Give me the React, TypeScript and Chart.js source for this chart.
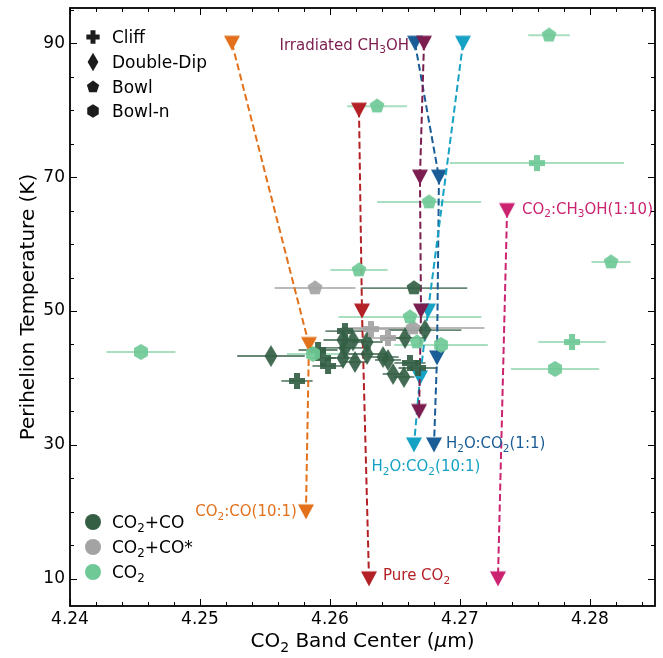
import React, { useEffect, useRef } from 'react';
import { Chart, registerables } from 'chart.js';
Chart.register(...registerables);

const FONT = '"DejaVu Sans", sans-serif';

const X_TICKS = [4.24, 4.25, 4.26, 4.27, 4.28];
const Y_TICKS = [10, 30, 50, 70, 90];

const MORPHOLOGIES = ['Cliff', 'Double-Dip', 'Bowl', 'Bowl-n'];
const COMPOSITIONS = ['CO_2+CO', 'CO_2+CO*', 'CO_2'];

// Comets: CO2+CO
const CO2CO_TYPE = ['Double-Dip', 'Double-Dip', 'Double-Dip', 'Double-Dip', 'Double-Dip', 'Double-Dip', 'Double-Dip', 'Double-Dip', 'Double-Dip', 'Double-Dip', 'Double-Dip', 'Double-Dip', 'Double-Dip', 'Double-Dip',
  'Cliff', 'Cliff', 'Cliff', 'Cliff', 'Cliff', 'Cliff', 'Cliff', 'Bowl'];
const CO2CO_X = [4.25546, 4.2610, 4.26177, 4.26115, 4.2610, 4.26192, 4.26285, 4.26285, 4.26408, 4.26446, 4.26485, 4.26569, 4.26577, 4.26731,
  4.25746, 4.25908, 4.25946, 4.25985, 4.26115, 4.26615, 4.26677, 4.26646];
const CO2CO_Y = [43.28, 45.67, 45.6, 44.48, 42.99, 42.39, 45.37, 43.58, 43.13, 42.69, 40.6, 40.15, 45.97, 47.16,
  39.55, 44.18, 42.99, 41.79, 47.01, 42.24, 41.49, 53.43];
const CO2CO_XERR = [0.0026, 0.0015, 0.001, 0.002, 0.0012, 0.001, 0.0012, 0.0015, 0.0012, 0.001, 0.0008, 0.0008, 0.0015, 0.0028,
  0.0012, 0.0015, 0.001, 0.0012, 0.0015, 0.0012, 0.0015, 0.0041];

// Comets: CO2+CO*
const CO2COS_TYPE = ['Bowl', 'Cliff', 'Cliff', 'Bowl'];
const CO2COS_X = [4.25885, 4.26315, 4.26446, 4.26638];
const CO2COS_Y = [53.43, 47.31, 45.97, 47.46];
const CO2COS_XERR = [0.0031, 0.0025, 0.0015, 0.0055];

// Comets: CO2
const CO2_TYPE = ['Bowl', 'Bowl', 'Cliff', 'Bowl', 'Bowl', 'Bowl', 'Bowl', 'Cliff', 'Bowl-n', 'Bowl-n', 'Bowl-n', 'Bowl', 'Bowl-n'];
const CO2_X = [4.27685, 4.26362, 4.27592, 4.26762, 4.28162, 4.26223, 4.26615, 4.27862, 4.27731, 4.24546, 4.26854, 4.26669, 4.25869];
const CO2_Y = [91.19, 80.6, 72.09, 66.27, 57.31, 56.12, 49.1, 45.37, 41.34, 43.88, 44.93, 45.37, 43.58];
const CO2_XERR = [0.0016, 0.0023, 0.0067, 0.004, 0.0015, 0.0022, 0.0055, 0.0026, 0.0034, 0.00265, 0.0036, 0, 0.002];

// Laboratory series
const LAB_NAMES = ['Pure CO_2', 'CO_2:CO(10:1)', 'Irradiated CH_3OH', 'H_2O:CO_2(1:1)', 'H_2O:CO_2(10:1)', 'CO_2:CH_3OH(1:10)'];
const PURE_CO2_X = [4.26223, 4.26246, 4.2630];
const PURE_CO2_Y = [80, 50, 10];
const CO2_CO_X = [4.25246, 4.25838, 4.25815];
const CO2_CO_Y = [90, 45, 20];
const IRR_CH3OH_X = [4.26723, 4.26692, 4.2670, 4.26685];
const IRR_CH3OH_Y = [90, 70, 50, 35];
const H2O_CO2_11_X = [4.26654, 4.26838, 4.26823, 4.2680];
const H2O_CO2_11_Y = [90, 70, 43, 30];
const H2O_CO2_101_X = [4.27023, 4.26754, 4.26692, 4.26646];
const H2O_CO2_101_Y = [90, 50, 40, 30];
const CO2_CH3OH_X = [4.27362, 4.27292];
const CO2_CH3OH_Y = [65, 10];

const DARK = 'rgba(52,95,69,0.92)';
const GRAY = 'rgba(163,163,163,0.92)';
const LIGHT = 'rgba(111,201,150,0.92)';

function makeMarker(shape: string, color: string, scale = 1) {
  const S = 30;
  const c = document.createElement('canvas');
  c.width = S; c.height = S;
  const g = c.getContext('2d')!;
  g.translate(S / 2, S / 2);
  g.scale(scale, scale);
  g.fillStyle = color;
  g.beginPath();
  if (shape === 'Cliff') {
    const a = 8, t = 3;
    g.moveTo(-t, -a); g.lineTo(t, -a); g.lineTo(t, -t); g.lineTo(a, -t); g.lineTo(a, t); g.lineTo(t, t);
    g.lineTo(t, a); g.lineTo(-t, a); g.lineTo(-t, t); g.lineTo(-a, t); g.lineTo(-a, -t); g.lineTo(-t, -t);
  } else if (shape === 'Double-Dip') {
    g.moveTo(0, -11); g.lineTo(6.5, 0); g.lineTo(0, 11); g.lineTo(-6.5, 0);
  } else if (shape === 'Bowl') {
    const r = 7.8;
    for (let k = 0; k < 5; k++) {
      const a = -Math.PI / 2 + (k * 2 * Math.PI) / 5;
      if (k === 0) g.moveTo(r * Math.cos(a), r * Math.sin(a)); else g.lineTo(r * Math.cos(a), r * Math.sin(a));
    }
  } else if (shape === 'Bowl-n') {
    const r = 8;
    for (let k = 0; k < 6; k++) {
      const a = -Math.PI / 2 + (k * Math.PI) / 3;
      if (k === 0) g.moveTo(r * Math.cos(a), r * Math.sin(a)); else g.lineTo(r * Math.cos(a), r * Math.sin(a));
    }
  } else if (shape === 'tri') {
    g.moveTo(-8, -7.5); g.lineTo(8, -7.5); g.lineTo(0, 7.5);
  }
  g.closePath();
  g.fill();
  return c;
}

function drawRich(ctx: CanvasRenderingContext2D, text: string, x: number, y: number, size: number, color: string, align: string) {
  const segs: { t: string; sub?: boolean; it?: boolean }[] = [];
  let buf = '';
  for (let i = 0; i < text.length; i++) {
    const ch = text[i];
    if ((ch === '_' || ch === '^') && i + 1 < text.length) {
      if (buf) { segs.push({ t: buf }); buf = ''; }
      segs.push({ t: text[i + 1], sub: ch === '_', it: ch === '^' });
      i++;
    } else buf += ch;
  }
  if (buf) segs.push({ t: buf });
  const fontOf = (s: any) => `${s.it ? 'italic ' : ''}${s.sub ? size * 0.7 : size}px ${FONT}`;
  const widths = segs.map((s) => { ctx.font = fontOf(s); return ctx.measureText(s.t).width; });
  const total = widths.reduce((a, b) => a + b, 0);
  let cx = align === 'left' ? x : align === 'right' ? x - total : x - total / 2;
  const base = y + size * 0.36;
  ctx.fillStyle = color;
  ctx.textAlign = 'left';
  ctx.textBaseline = 'alphabetic';
  segs.forEach((s, i) => {
    ctx.font = fontOf(s);
    ctx.fillText(s.t, cx, base + (s.sub ? size * 0.22 : 0));
    cx += widths[i];
  });
}

export default function App() {
  const ref = useRef<HTMLCanvasElement>(null);
  useEffect(() => {
    const canvas = ref.current!;
    const mk = (types: string[], color: string) => {
      const cache: Record<string, HTMLCanvasElement> = {};
      return types.map((t) => (cache[t] = cache[t] || makeMarker(t, color)));
    };
    const comet = (xs: number[], ys: number[], errs: number[], types: string[], color: string, errColor: string, errWidth: number) => ({
      type: 'scatter',
      data: xs.map((x, i) => ({ x, y: ys[i] })),
      xErr: errs,
      errColor,
      errWidth,
      pointStyle: mk(types, color),
      pointRadius: 6,
      showLine: false,
      order: 1,
    });
    const lab = (name: string, xs: number[], ys: number[], color: string, labelIdx: number, dx: number, dy: number, align: string, order: number) => ({
      type: 'scatter',
      label: name,
      data: xs.map((x, i) => ({ x, y: ys[i] })),
      showLine: true,
      borderColor: color,
      borderWidth: 2,
      borderDash: [7, 3.5],
      backgroundColor: color,
      pointStyle: makeMarker('tri', color),
      pointRadius: 6,
      labelColor: color,
      labelIdx, dx, dy, align,
      order,
    });

    const errPlugin = {
      id: 'errbars',
      beforeDatasetsDraw(chart: any) {
        const { ctx, chartArea, scales } = chart;
        ctx.save();
        ctx.beginPath();
        ctx.rect(chartArea.left, chartArea.top, chartArea.right - chartArea.left, chartArea.bottom - chartArea.top);
        ctx.clip();
        chart.data.datasets.forEach((ds: any) => {
          if (!ds.xErr) return;
          ctx.strokeStyle = ds.errColor;
          ctx.lineWidth = ds.errWidth;
          ds.data.forEach((p: any, j: number) => {
            const e = ds.xErr[j];
            if (!e) return;
            const y = scales.y.getPixelForValue(p.y);
            ctx.beginPath();
            ctx.moveTo(scales.x.getPixelForValue(p.x - e), y);
            ctx.lineTo(scales.x.getPixelForValue(p.x + e), y);
            ctx.stroke();
          });
        });
        ctx.restore();
      },
      afterDatasetsDraw(chart: any) {
        const { ctx, scales } = chart;
        ctx.save();
        chart.data.datasets.forEach((ds: any) => {
          if (ds.labelIdx === undefined) return;
          const p = ds.data[ds.labelIdx];
          const x = scales.x.getPixelForValue(p.x) + ds.dx;
          const y = scales.y.getPixelForValue(p.y) + ds.dy;
          drawRich(ctx, ds.label, x, y, 15, ds.labelColor, ds.align);
        });
        ctx.restore();
      },
      afterDraw(chart: any) {
        const { ctx, chartArea: { left, right, top, bottom }, scales: { x, y } } = chart;
        ctx.save();
        ctx.strokeStyle = '#000';
        ctx.lineWidth = 1;
        for (let i = 0; i <= 22; i++) {
          const v = 4.24 + i * 0.002;
          const px = Math.round(x.getPixelForValue(v)) + 0.5;
          const len = i % 5 === 0 ? 7 : 4;
          ctx.beginPath();
          ctx.moveTo(px, bottom); ctx.lineTo(px, bottom - len);
          ctx.moveTo(px, top); ctx.lineTo(px, top + len);
          ctx.stroke();
        }
        for (let v = 10; v <= 95; v += 5) {
          const py = Math.round(y.getPixelForValue(v)) + 0.5;
          const len = Y_TICKS.includes(v) ? 7 : 4;
          ctx.beginPath();
          ctx.moveTo(left, py); ctx.lineTo(left + len, py);
          ctx.moveTo(right, py); ctx.lineTo(right - len, py);
          ctx.stroke();
        }
        ctx.lineWidth = 1.8;
        ctx.strokeRect(left, top, right - left, bottom - top);

        // axis titles
        drawRich(ctx, 'CO_2 Band Center (^μm)', (left + right) / 2, 640, 20, '#000', 'center');
        ctx.save();
        ctx.translate(27, (top + bottom) / 2);
        ctx.rotate(-Math.PI / 2);
        drawRich(ctx, 'Perihelion Temperature (K)', 0, 0, 20, '#000', 'center');
        ctx.restore();

        // morphology legend
        const rowsA = [37, 62, 87, 111];
        MORPHOLOGIES.forEach((m, i) => {
          const img = makeMarker(m, '#1c1c1c', 0.83);
          ctx.drawImage(img, 93 - img.width / 2, rowsA[i] - img.height / 2);
          drawRich(ctx, m, 112, rowsA[i], 17, '#000', 'left');
        });
        // composition legend
        const rowsB = [522, 547, 572];
        const cols = ['rgb(52,95,69)', 'rgb(163,163,163)', 'rgb(111,201,150)'];
        COMPOSITIONS.forEach((c, i) => {
          ctx.fillStyle = cols[i];
          ctx.beginPath();
          ctx.arc(93, rowsB[i], 8, 0, Math.PI * 2);
          ctx.fill();
          drawRich(ctx, c, 112, rowsB[i], 17, '#000', 'left');
        });
        ctx.restore();
      },
    };

    const datasets: any[] = [
      comet(CO2_X, CO2_Y, CO2_XERR, CO2_TYPE, LIGHT, 'rgba(111,201,150,0.6)', 2),
      comet(CO2COS_X, CO2COS_Y, CO2COS_XERR, CO2COS_TYPE, GRAY, 'rgba(163,163,163,0.75)', 2),
      comet(CO2CO_X, CO2CO_Y, CO2CO_XERR, CO2CO_TYPE, DARK, 'rgba(52,95,69,0.75)', 1.8),
      lab(LAB_NAMES[2], IRR_CH3OH_X, IRR_CH3OH_Y, '#7b1d4e', 0, -15, 1, 'right', 2),
      lab(LAB_NAMES[4], H2O_CO2_101_X, H2O_CO2_101_Y, '#16a2c4', 3, 12, 21, 'center', 3),
      lab(LAB_NAMES[3], H2O_CO2_11_X, H2O_CO2_11_Y, '#195c96', 3, 12, -2, 'left', 4),
      lab(LAB_NAMES[0], PURE_CO2_X, PURE_CO2_Y, '#b32126', 2, 14, -4, 'left', 5),
      lab(LAB_NAMES[1], CO2_CO_X, CO2_CO_Y, '#e3711b', 2, -9, -1, 'right', 6),
      lab(LAB_NAMES[5], CO2_CH3OH_X, CO2_CH3OH_Y, '#cb2370', 0, 15, -2, 'left', 7),
    ];

    const tickFont = { size: 17, family: FONT };
    const chart = new Chart(canvas, {
      type: 'scatter',
      data: { datasets },
      options: {
        responsive: true,
        maintainAspectRatio: false,
        animation: false,
        events: [],
        layout: { padding: { left: 0, right: 6, top: 8, bottom: 0 } },
        plugins: { legend: { display: false }, tooltip: { enabled: false } },
        scales: {
          x: {
            type: 'linear', min: 4.24, max: 4.285,
            afterFit: (s: any) => { s.height = 52; s.paddingLeft = 0; s.paddingRight = 0; },
            afterBuildTicks: (s: any) => { s.ticks = X_TICKS.map((v) => ({ value: v })); },
            ticks: { callback: (v: any) => Number(v).toFixed(2), font: tickFont, color: '#000', padding: 3, maxRotation: 0, autoSkip: false },
            grid: { display: false, drawTicks: false }, border: { display: false },
          },
          y: {
            type: 'linear', min: 5.94, max: 95.26,
            afterFit: (s: any) => { s.width = 70; s.paddingTop = 0; s.paddingBottom = 0; },
            afterBuildTicks: (s: any) => { s.ticks = Y_TICKS.map((v) => ({ value: v })); },
            ticks: { callback: (v: any) => String(v), font: tickFont, color: '#000', padding: 5, autoSkip: false },
            grid: { display: false, drawTicks: false }, border: { display: false },
          },
        },
      } as any,
      plugins: [errPlugin],
    } as any);
    return () => chart.destroy();
  }, []);
  return (
    <div style={{ position: 'absolute', left: 0, top: 0, width: 663, height: 658 }}>
      <canvas ref={ref} />
    </div>
  );
}
